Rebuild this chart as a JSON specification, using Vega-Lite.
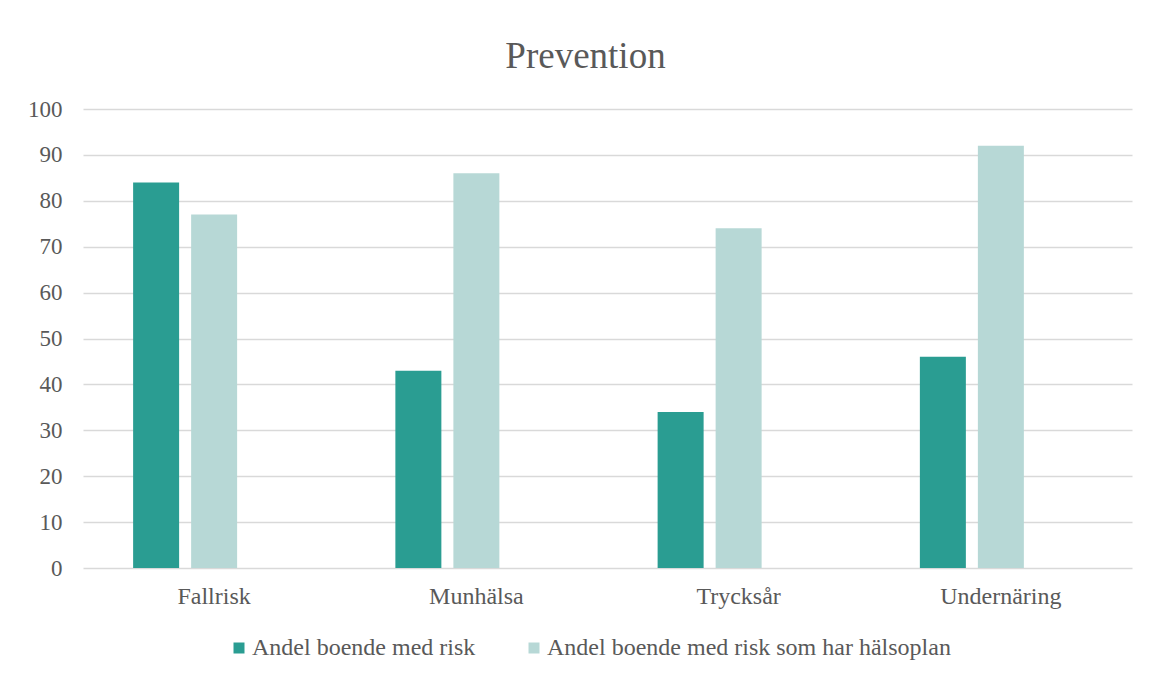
{
  "$schema": "https://vega.github.io/schema/vega-lite/v6.json",
  "width": 1049,
  "height": 459,
  "autosize": {"type": "none"},
  "padding": {"left": 83, "top": 109, "right": 19, "bottom": 109},
  "background": "white",
  "title": {
    "text": "Prevention",
    "font": "Liberation Serif",
    "fontSize": 37,
    "fontWeight": "normal",
    "color": "#595959",
    "anchor": "middle",
    "dx": -22,
    "baseline": "alphabetic",
    "offset": -7
  },
  "data": {
    "values": [
      {"kategori": "Fallrisk", "serie": "Andel boende med risk", "varde": 84},
      {"kategori": "Fallrisk", "serie": "Andel boende med risk som har hälsoplan", "varde": 77},
      {"kategori": "Munhälsa", "serie": "Andel boende med risk", "varde": 43},
      {"kategori": "Munhälsa", "serie": "Andel boende med risk som har hälsoplan", "varde": 86},
      {"kategori": "Trycksår", "serie": "Andel boende med risk", "varde": 34},
      {"kategori": "Trycksår", "serie": "Andel boende med risk som har hälsoplan", "varde": 74},
      {"kategori": "Undernäring", "serie": "Andel boende med risk", "varde": 46},
      {"kategori": "Undernäring", "serie": "Andel boende med risk som har hälsoplan", "varde": 92}
    ]
  },
  "mark": {"type": "bar"},
  "encoding": {
    "x": {
      "field": "kategori",
      "type": "nominal",
      "sort": ["Fallrisk", "Munhälsa", "Trycksår", "Undernäring"],
      "scale": {"paddingInner": 0, "paddingOuter": 0},
      "axis": {
        "title": null,
        "labelAngle": 0,
        "domain": false,
        "ticks": false,
        "tickSize": 0,
        "labelPadding": 16,
        "labelFont": "Liberation Serif",
        "labelFontSize": 24,
        "labelColor": "#595959"
      }
    },
    "xOffset": {
      "field": "serie",
      "type": "nominal",
      "scale": {
        "domain": ["Andel boende med risk", "Andel boende med risk som har hälsoplan", "tom"],
        "paddingInner": 0.207,
        "paddingOuter": 0.864
      }
    },
    "y": {
      "field": "varde",
      "type": "quantitative",
      "scale": {"domain": [0, 100], "nice": false},
      "axis": {
        "title": null,
        "values": [0, 10, 20, 30, 40, 50, 60, 70, 80, 90, 100],
        "domain": false,
        "ticks": false,
        "tickSize": 0,
        "labelPadding": 21,
        "labelFont": "Liberation Serif",
        "labelFontSize": 23,
        "labelColor": "#595959",
        "grid": true,
        "gridColor": "#d9d9d9",
        "gridWidth": 1.3
      }
    },
    "color": {
      "field": "serie",
      "type": "nominal",
      "scale": {
        "domain": ["Andel boende med risk", "Andel boende med risk som har hälsoplan"],
        "range": ["#2a9d92", "#b7d8d6"]
      },
      "legend": {
        "title": null,
        "orient": "none",
        "direction": "horizontal",
        "legendX": 144,
        "legendY": 527,
        "symbolType": "square",
        "symbolSize": 121,
        "symbolStrokeWidth": 0,
        "labelFont": "Liberation Serif",
        "labelFontSize": 24,
        "labelColor": "#595959",
        "labelOffset": 1,
        "columnPadding": 46,
        "labelLimit": 600
      }
    }
  },
  "config": {
    "view": {"stroke": null}
  }
}
